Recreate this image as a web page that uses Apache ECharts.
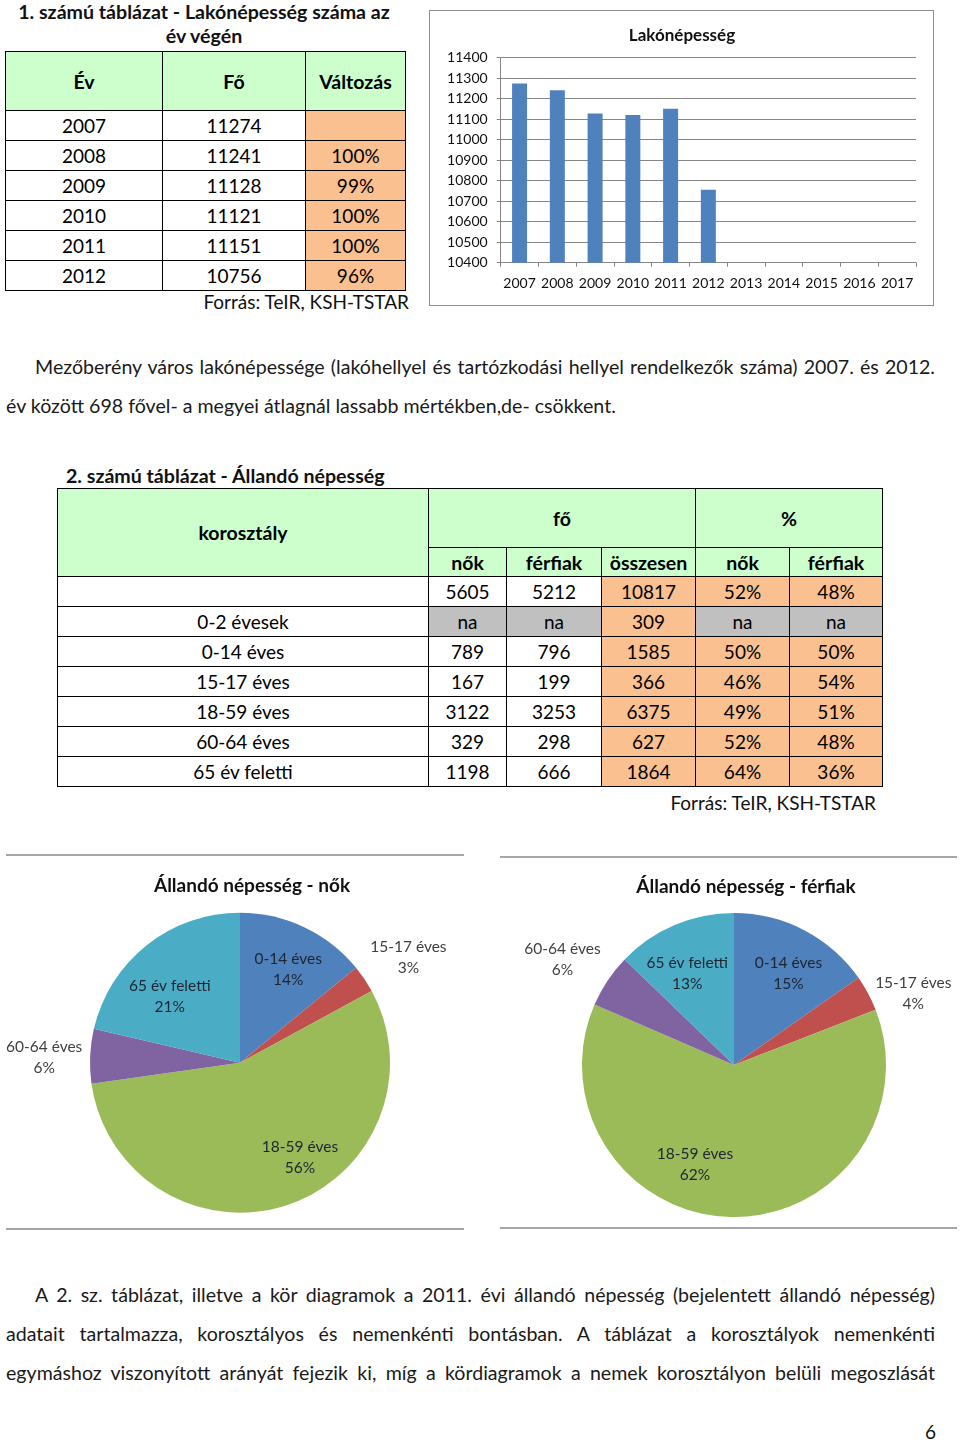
<!DOCTYPE html>
<html><head><meta charset="utf-8">
<script src="https://cdn.jsdelivr.net/npm/echarts/dist/echarts.min.js"></script>
<style>
html,body{margin:0;padding:0;background:#fff}
body{width:960px;height:1446px;position:relative;overflow:hidden;font-family:Lato,'Open Sans',sans-serif;color:#111}
.abs{position:absolute}
.ttl{font-weight:bold;font-size:19.6px;line-height:24.3px;color:#111;white-space:nowrap}
.src{font-size:19px;line-height:24px;color:#111;text-align:right;white-space:nowrap}
.para{font-size:19.6px;line-height:24px;color:#1a1a1a;text-align:justify;text-align-last:justify}
table{border-collapse:collapse;table-layout:fixed;font-size:19px;color:#000}
td{border:1px solid #000;padding:0;text-align:center;vertical-align:middle;overflow:hidden;white-space:nowrap}
.g{background:#CCFFCC;font-weight:bold;font-size:19.5px}
.o{background:#FAC090}
.n{background:#C0C0C0}
.hl{height:2px;background:#a6a6a6}
</style>
</head><body>

<div class="abs ttl" style="left:0;top:0;width:408px;text-align:center">1. számú táblázat - Lakónépesség száma az<br>év végén</div>
<table id="t1" class="abs" style="left:5px;top:51px;width:400px">
  <colgroup><col style="width:157px"><col style="width:143px"><col style="width:100px"></colgroup>
  <tbody></tbody>
</table>
<div class="abs src" style="left:150px;top:290px;width:259px">Forrás: TeIR, KSH-TSTAR</div>

<div id="bar" class="abs" style="left:429px;top:10px;width:506px;height:297px"></div>
<div class="abs" style="left:429px;top:10px;width:503px;height:294px;border:1.5px solid #8f8f8f;pointer-events:none"></div>

<div class="abs para" style="left:35px;top:355px;width:900px">Mezőberény város lakónépessége (lakóhellyel és tartózkodási hellyel rendelkezők száma) 2007. és 2012.</div>
<div class="abs para" style="left:6px;top:394px;width:900px;text-align:left;text-align-last:left">év között 698 fővel- a megyei átlagnál lassabb mértékben,de- csökkent.</div>

<div class="abs ttl" style="left:66px;top:464px">2. számú táblázat - Állandó népesség</div>
<table id="t2" class="abs" style="left:57px;top:488px;width:825px">
  <colgroup><col style="width:371px"><col style="width:78px"><col style="width:95px"><col style="width:94px"><col style="width:94px"><col style="width:93px"></colgroup>
  <tbody></tbody>
</table>
<div class="abs src" style="left:600px;top:791px;width:276px">Forrás: TeIR, KSH-TSTAR</div>

<div class="abs hl" style="left:6px;top:854px;width:458px"></div>
<div class="abs hl" style="left:6px;top:1228px;width:458px"></div>
<div class="abs hl" style="left:500px;top:856px;width:457px"></div>
<div class="abs hl" style="left:500px;top:1227px;width:457px"></div>
<div id="pies" class="abs" style="left:0;top:850px;width:960px;height:385px"></div>

<div class="abs para" style="left:35px;top:1283px;width:900px">A 2. sz. táblázat, illetve a kör diagramok a 2011. évi állandó népesség (bejelentett állandó népesség)</div>
<div class="abs para" style="left:6px;top:1322px;width:929px">adatait tartalmazza, korosztályos és nemenkénti bontásban. A táblázat a korosztályok nemenkénti</div>
<div class="abs para" style="left:6px;top:1361px;width:929px">egymáshoz viszonyított arányát fejezik ki, míg a kördiagramok a nemek korosztályon belüli megoszlását</div>
<div class="abs" style="left:900px;top:1420px;width:36px;text-align:right;font-size:19px;line-height:24px">6</div>

<script>
// ---- Data ----
const years = ['2007','2008','2009','2010','2011','2012','2013','2014','2015','2016','2017'];
const population = [11274, 11241, 11128, 11121, 11151, 10756, null, null, null, null, null];
const changePct = ['', '100%', '99%', '100%', '100%', '96%'];

const ageGroups = ['0-14 éves', '15-17 éves', '18-59 éves', '60-64 éves', '65 év feletti'];
const women = [789, 167, 3122, 329, 1198];
const men = [796, 199, 3253, 298, 666];

const t2Groups = ['', '0-2 évesek', '0-14 éves', '15-17 éves', '18-59 éves', '60-64 éves', '65 év feletti'];
const t2Women = ['5605', 'na', '789', '167', '3122', '329', '1198'];
const t2Men = ['5212', 'na', '796', '199', '3253', '298', '666'];
const t2Total = ['10817', '309', '1585', '366', '6375', '627', '1864'];
const t2WomenPct = ['52%', 'na', '50%', '46%', '49%', '52%', '64%'];
const t2MenPct = ['48%', 'na', '50%', '54%', '51%', '48%', '36%'];

// ---- Table 1 ----
(function(){
  const tb = document.querySelector('#t1 tbody');
  let h = '<tr style="height:59px"><td class="g">Év</td><td class="g">Fő</td><td class="g">Változás</td></tr>';
  for (let i = 0; i < changePct.length; i++) {
    h += '<tr style="height:30px"><td>' + years[i] + '</td><td>' + population[i] + '</td><td class="o">' + changePct[i] + '</td></tr>';
  }
  tb.innerHTML = h;
})();

// ---- Table 2 ----
(function(){
  const tb = document.querySelector('#t2 tbody');
  let h = '<tr style="height:59px"><td class="g" rowspan="2">korosztály</td><td class="g" colspan="3">fő</td><td class="g" colspan="2">%</td></tr>';
  h += '<tr style="height:29px"><td class="g">nők</td><td class="g">férfiak</td><td class="g">összesen</td><td class="g">nők</td><td class="g">férfiak</td></tr>';
  for (let i = 0; i < t2Groups.length; i++) {
    const na = t2Women[i] === 'na';
    h += '<tr style="height:30px"><td>' + t2Groups[i] + '</td>' +
      '<td' + (na ? ' class="n"' : '') + '>' + t2Women[i] + '</td>' +
      '<td' + (na ? ' class="n"' : '') + '>' + t2Men[i] + '</td>' +
      '<td class="o">' + t2Total[i] + '</td>' +
      '<td class="' + (na ? 'n' : 'o') + '">' + t2WomenPct[i] + '</td>' +
      '<td class="' + (na ? 'n' : 'o') + '">' + t2MenPct[i] + '</td></tr>';
  }
  tb.innerHTML = h;
})();

const FONT = 'Lato';
const axisGray = '#868686';

// ---- Bar chart ----
const bar = echarts.init(document.getElementById('bar'), null, {renderer: 'canvas'});
bar.setOption({
  animation: false,
  title: {text: 'Lakónépesség', left: 'center', top: 12,
    textStyle: {fontFamily: FONT, fontSize: 17, fontWeight: 'bold', color: '#111'}},
  grid: {left: 71.7, right: 19, top: 47.7, bottom: 44.3},
  xAxis: {type: 'category', data: years,
    axisLine: {lineStyle: {color: axisGray}},
    axisTick: {show: true, length: 4, lineStyle: {color: axisGray}},
    axisLabel: {color: '#111', fontFamily: FONT, fontSize: 14, margin: 14, interval: 0}},
  yAxis: {type: 'value', min: 10400, max: 11400, interval: 100,
    axisLine: {show: true, lineStyle: {color: axisGray}},
    axisTick: {show: true, length: 4, lineStyle: {color: axisGray}},
    splitLine: {lineStyle: {color: axisGray}},
    axisLabel: {color: '#111', fontFamily: FONT, fontSize: 14, margin: 13, formatter: v => String(v)}},
  series: [{type: 'bar', data: population, barWidth: 15, itemStyle: {color: '#4F81BD'}}]
});

// ---- Pie charts ----
const pieColors = ['#4F81BD', '#C0504D', '#9BBB59', '#8064A2', '#4BACC6'];
const outsideIdx = [1, 3];
// small label nudges (px) to mimic the spreadsheet's label placement
const womenLabelNudge = [[2, 4], [-6, -18], [26, -8], [5, 2], [-3, 18]];
const menLabelNudge = [[4, 6], [-5, 3], [-37, -10], [5, -18], [-4, 9]];
const labelBase = {fontFamily: FONT, fontSize: 15.5, lineHeight: 21, formatter: '{b}\n{d}%'};
const outsideLabel = {
  fontFamily: FONT, fontSize: 15.5, lineHeight: 21,
  formatter: '{c|{b}}\n{c|{d}%}',
  rich: {c: {width: 80, align: 'center', fontFamily: FONT, fontSize: 15.5, lineHeight: 21, color: '#404040'}}
};

function pieSet(values, center, r, nudge) {
  const base = {
    type: 'pie', center: center, radius: r, startAngle: 90, clockwise: true,
    percentPrecision: 0, avoidLabelOverlap: false, silent: true,
    label: {show: false}, labelLine: {show: false, length: 6, length2: 0},
    data: ageGroups.map((n, i) => ({
      name: n, value: values[i], itemStyle: {color: pieColors[i]},
      label: outsideIdx.includes(i)
        ? Object.assign({show: true, position: 'outside', color: '#404040', offset: nudge[i]}, outsideLabel)
        : {show: false}
    }))
  };
  const overlay = {
    type: 'pie', center: center, radius: [r * 0.4, r], startAngle: 90, clockwise: true,
    percentPrecision: 0, silent: true,
    itemStyle: {color: 'rgba(0,0,0,0)'},
    labelLine: {show: false},
    data: ageGroups.map((n, i) => ({
      name: n, value: values[i],
      label: outsideIdx.includes(i)
        ? {show: false}
        : Object.assign({show: true, position: 'inside', color: '#1e2530', offset: nudge[i]}, labelBase)
    }))
  };
  return [base, overlay];
}

const pies = echarts.init(document.getElementById('pies'), null, {renderer: 'canvas'});
pies.setOption({
  animation: false,
  title: [
    {text: 'Állandó népesség - nők', left: 247, top: 21, textAlign: 'center',
      textStyle: {fontFamily: FONT, fontSize: 19, fontWeight: 'bold', color: '#111'}},
    {text: 'Állandó népesség - férfiak', left: 741, top: 22, textAlign: 'center',
      textStyle: {fontFamily: FONT, fontSize: 19, fontWeight: 'bold', color: '#111'}}
  ],
  series: [].concat(pieSet(women, [240, 212.7], 150, womenLabelNudge), pieSet(men, [734, 215], 152, menLabelNudge))
});
</script>
</body></html>
